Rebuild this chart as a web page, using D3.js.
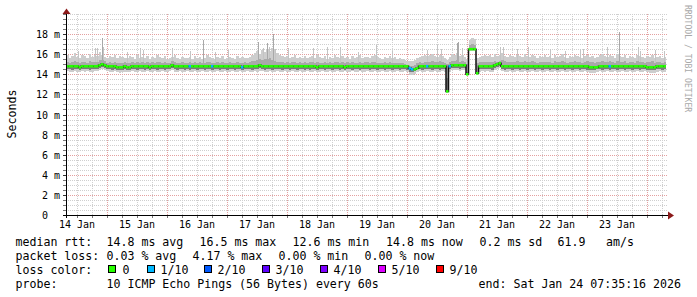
<!DOCTYPE html>
<html>
<head>
<meta charset="utf-8">
<script src="https://cdn.jsdelivr.net/npm/d3@7"></script>
<style>
  body { margin: 0; background: #fff; }
  svg { display: block; font-family: "DejaVu Sans Mono", monospace; }
</style>
</head>
<body>
<svg id="chart" width="697" height="297"></svg>
<script>
"use strict";

// Time window: ten days ending at the probe's last update
var endTime = new Date(Date.UTC(2026, 0, 24, 7, 35, 16));
var startTime = new Date(+endTime - 10 * 864e5);

// Hourly median rtt (ms), one row per day
var medianRtt = [
  14.8,14.8,14.8,14.8,14.8,14.7,14.8,14.8,14.8,14.8,14.8,14.8,14.8,14.9,15.0,14.9,14.8,14.8,14.8,14.8,14.7,14.7,14.7,14.8,
  14.7,14.7,14.8,14.8,14.8,14.8,14.8,14.8,14.8,14.7,14.8,14.8,14.8,14.8,14.8,14.8,14.8,14.8,14.9,14.8,14.8,14.8,14.8,14.8,
  14.8,14.8,14.8,14.8,14.8,14.8,14.8,14.8,14.8,14.8,14.8,14.8,14.8,14.8,14.8,14.8,14.8,14.8,14.8,14.8,14.8,14.8,14.7,14.8,
  14.8,14.8,14.8,14.8,14.8,14.9,14.8,14.8,14.8,14.8,14.8,14.8,14.8,14.8,14.8,14.8,14.8,14.8,14.8,14.8,14.8,14.8,14.8,14.8,
  14.8,14.8,14.8,14.8,14.7,14.8,14.8,14.8,14.8,14.8,14.8,14.8,14.8,14.8,14.8,14.7,14.8,14.8,14.8,14.8,14.8,14.8,14.8,14.8,
  14.8,14.8,14.8,14.8,14.8,14.8,14.8,14.8,14.8,14.8,14.8,14.8,14.8,14.8,14.8,14.8,14.8,14.6,14.5,14.5,14.6,14.8,14.8,14.8,
  14.8,14.8,14.8,14.8,14.8,14.8,14.8,14.8,12.3,14.8,14.9,14.9,14.9,14.9,14.9,14.9,14.0,16.5,16.5,16.5,14.1,14.8,14.8,14.8,
  14.8,14.8,14.8,14.9,15.0,15.1,14.8,14.8,14.8,14.8,14.8,14.8,14.8,14.8,14.8,14.8,14.8,14.8,14.8,14.8,14.8,14.8,14.8,14.8,
  14.8,14.8,14.8,14.8,14.8,14.8,14.8,14.8,14.8,14.8,14.8,14.8,14.8,14.8,14.8,14.8,14.8,14.7,14.7,14.7,14.7,14.8,14.8,14.8,
  14.8,14.8,14.8,14.8,14.8,14.8,14.8,14.8,14.8,14.8,14.8,14.8,14.8,14.8,14.8,14.8,14.7,14.7,14.7,14.7,14.8,14.8,14.8,14.8
];

// Hours with lost pings, and how many were lost (out of 10)
var lossHours = [49, 58, 70, 137, 138, 144, 153, 217];
var lossLevel = [1, 1, 1, 1, 1, 1, 1, 1];

// Smoke: highest ping
var smokeMax = [
  15.9,15.6,15.8,16.1,15.7,15.6,15.9,15.8,15.6,16.0,15.7,15.9,15.8,16.2,15.9,15.7,15.6,15.8,15.7,15.9,15.6,15.8,15.7,15.6,
  15.6,15.8,15.7,15.5,15.9,15.6,15.7,15.6,15.8,15.5,15.7,15.6,15.9,15.7,15.6,15.8,15.5,15.6,15.7,15.9,15.6,15.5,15.7,15.6,
  15.6,15.7,15.5,15.8,15.6,15.7,15.5,15.6,15.9,15.7,15.6,15.5,15.7,15.6,15.8,15.5,15.6,15.7,15.6,15.5,15.8,15.6,15.7,15.6,
  15.6,15.7,15.9,16.1,16.3,16.0,16.4,16.2,16.5,16.3,16.6,16.4,16.1,15.9,15.8,15.7,15.8,15.6,15.7,15.9,15.6,15.7,15.6,15.8,
  15.6,15.7,15.8,15.6,15.9,15.7,15.6,15.8,15.5,15.7,15.6,15.9,15.7,15.6,15.8,15.6,15.7,15.5,15.8,15.6,15.7,15.9,15.6,15.7,
  15.7,15.6,15.8,15.9,15.7,15.6,15.5,15.7,15.6,15.8,15.6,15.7,15.5,15.6,15.5,15.4,15.3,15.3,15.3,15.4,15.6,15.7,15.8,15.9,
  15.8,15.9,16.0,15.8,15.7,15.9,15.8,15.6,15.4,15.7,16.0,15.9,16.1,15.8,15.9,15.7,15.5,17.4,17.6,17.5,15.6,15.7,15.8,15.9,
  15.8,15.9,15.7,16.0,15.8,15.9,16.1,15.8,15.7,15.9,15.8,15.7,15.9,15.8,15.7,16.0,15.8,15.7,15.9,15.8,15.6,15.8,15.7,15.9,
  15.7,15.8,15.6,15.9,15.7,15.8,16.0,15.7,15.6,15.8,15.7,15.9,15.8,15.7,15.6,15.8,15.9,15.7,15.8,15.6,15.7,15.9,16.0,15.8,
  15.7,15.9,15.8,15.6,16.0,15.8,15.7,15.9,15.6,15.8,15.7,15.6,15.9,15.8,15.7,15.6,15.8,15.7,15.9,15.6,15.7,15.8,15.6,15.7
];

// Smoke: upper edge of the dense part
var smokeHigh = [
  15.2,15.1,15.2,15.3,15.2,15.1,15.2,15.2,15.1,15.3,15.2,15.2,15.2,15.4,15.4,15.3,15.1,15.2,15.1,15.2,15.1,15.1,15.1,15.2,
  15.1,15.1,15.2,15.1,15.2,15.1,15.2,15.1,15.2,15.1,15.2,15.1,15.2,15.2,15.1,15.2,15.1,15.1,15.3,15.2,15.1,15.1,15.2,15.1,
  15.1,15.2,15.1,15.2,15.1,15.2,15.1,15.1,15.2,15.2,15.1,15.1,15.2,15.1,15.2,15.1,15.1,15.2,15.1,15.1,15.2,15.1,15.1,15.2,
  15.1,15.2,15.3,15.3,15.4,15.5,15.4,15.5,15.5,15.6,15.4,15.3,15.2,15.2,15.2,15.1,15.2,15.1,15.2,15.2,15.1,15.2,15.1,15.2,
  15.1,15.2,15.2,15.1,15.2,15.1,15.1,15.2,15.1,15.2,15.1,15.2,15.2,15.1,15.2,15.1,15.2,15.1,15.2,15.1,15.1,15.2,15.1,15.2,
  15.2,15.1,15.2,15.2,15.1,15.1,15.1,15.2,15.1,15.2,15.1,15.1,15.1,15.1,15.1,15.0,14.9,14.8,14.8,14.9,15.1,15.2,15.1,15.2,
  15.2,15.2,15.3,15.2,15.2,15.3,15.2,15.1,15.0,15.2,15.3,15.3,15.4,15.2,15.3,15.2,15.0,16.9,17.0,16.9,15.1,15.2,15.2,15.2,
  15.2,15.2,15.2,15.3,15.2,15.3,15.4,15.3,15.2,15.2,15.2,15.2,15.3,15.2,15.2,15.3,15.2,15.2,15.3,15.2,15.1,15.2,15.2,15.2,
  15.2,15.2,15.1,15.3,15.2,15.2,15.3,15.2,15.1,15.2,15.2,15.3,15.2,15.2,15.1,15.2,15.3,15.2,15.2,15.1,15.2,15.2,15.3,15.2,
  15.2,15.3,15.2,15.1,15.3,15.2,15.2,15.3,15.1,15.2,15.2,15.1,15.3,15.2,15.2,15.1,15.2,15.2,15.3,15.1,15.2,15.2,15.1,15.2
];

// Smoke: lower edge of the dense part
var smokeLow = [
  14.5,14.5,14.4,14.5,14.5,14.4,14.5,14.5,14.5,14.4,14.5,14.5,14.5,14.6,14.7,14.6,14.5,14.5,14.4,14.5,14.4,14.4,14.4,14.5,
  14.4,14.4,14.5,14.5,14.4,14.5,14.5,14.4,14.5,14.4,14.5,14.5,14.4,14.5,14.5,14.4,14.5,14.5,14.6,14.5,14.4,14.5,14.5,14.4,
  14.5,14.4,14.5,14.5,14.4,14.5,14.5,14.4,14.5,14.5,14.4,14.5,14.5,14.4,14.5,14.5,14.4,14.5,14.5,14.4,14.5,14.5,14.4,14.5,
  14.5,14.5,14.4,14.5,14.5,14.6,14.5,14.4,14.5,14.5,14.4,14.5,14.5,14.5,14.4,14.5,14.5,14.4,14.5,14.5,14.4,14.5,14.5,14.4,
  14.5,14.4,14.5,14.5,14.4,14.5,14.5,14.4,14.5,14.5,14.4,14.5,14.5,14.4,14.5,14.4,14.5,14.5,14.4,14.5,14.5,14.4,14.5,14.5,
  14.5,14.4,14.5,14.5,14.4,14.5,14.5,14.4,14.5,14.5,14.4,14.5,14.5,14.4,14.5,14.5,14.4,14.2,14.2,14.3,14.5,14.5,14.4,14.5,
  14.5,14.5,14.4,14.5,14.5,14.4,14.5,14.5,13.6,14.5,14.6,14.6,14.6,14.5,14.6,14.6,14.2,16.4,16.4,16.4,14.2,14.5,14.5,14.5,
  14.5,14.5,14.4,14.6,14.7,14.8,14.5,14.4,14.5,14.5,14.4,14.5,14.5,14.4,14.5,14.5,14.4,14.5,14.5,14.4,14.5,14.5,14.4,14.5,
  14.5,14.4,14.5,14.5,14.4,14.5,14.5,14.4,14.5,14.5,14.4,14.5,14.5,14.4,14.5,14.5,14.4,14.4,14.4,14.4,14.5,14.5,14.4,14.5,
  14.5,14.4,14.5,14.5,14.4,14.5,14.5,14.4,14.5,14.5,14.4,14.5,14.5,14.4,14.5,14.5,14.4,14.4,14.4,14.4,14.5,14.5,14.4,14.5
];

// Smoke: lowest ping
var smokeMin = [
  14.3,14.2,14.2,14.3,14.2,14.2,14.3,14.2,14.3,14.2,14.2,14.3,14.3,14.4,14.5,14.4,14.3,14.2,14.2,14.3,14.2,14.1,14.2,14.2,
  14.2,14.2,14.3,14.2,14.2,14.3,14.2,14.2,14.3,14.2,14.2,14.3,14.2,14.2,14.3,14.2,14.2,14.3,14.4,14.2,14.2,14.3,14.2,14.2,
  14.3,14.2,14.2,14.3,14.2,14.2,14.3,14.2,14.2,14.3,14.2,14.2,14.3,14.2,14.2,14.3,14.2,14.2,14.3,14.2,14.2,14.3,14.2,14.2,
  14.3,14.2,14.2,14.3,14.2,14.3,14.3,14.2,14.2,14.3,14.2,14.2,14.3,14.2,14.2,14.3,14.2,14.2,14.3,14.2,14.2,14.3,14.2,14.2,
  14.3,14.2,14.2,14.3,14.2,14.2,14.3,14.2,14.2,14.3,14.2,14.2,14.3,14.2,14.2,14.3,14.2,14.2,14.3,14.2,14.2,14.3,14.2,14.2,
  14.3,14.2,14.2,14.3,14.2,14.2,14.3,14.2,14.2,14.3,14.2,14.2,14.3,14.2,14.2,14.3,14.2,13.9,13.9,14.0,14.2,14.3,14.2,14.2,
  14.3,14.2,14.2,14.3,14.2,14.2,14.3,14.2,13.2,14.2,14.4,14.4,14.4,14.3,14.4,14.4,13.9,16.3,16.3,16.3,13.9,14.2,14.3,14.2,
  14.3,14.2,14.2,14.4,14.5,14.6,14.3,14.2,14.2,14.3,14.2,14.2,14.3,14.2,14.2,14.3,14.2,14.2,14.3,14.2,14.2,14.3,14.2,14.2,
  14.3,14.2,14.2,14.3,14.2,14.2,14.3,14.2,14.2,14.3,14.2,14.2,14.3,14.2,14.2,14.3,14.2,14.1,14.1,14.1,14.2,14.3,14.2,14.2,
  14.3,14.2,14.2,14.3,14.2,14.2,14.3,14.2,14.2,14.3,14.2,14.2,14.3,14.2,14.2,14.3,14.2,14.1,14.1,14.1,14.2,14.3,14.2,14.2
];

// Single slow pings: [hour, ms]
var spikes = [
  [4.8,16.3],[11.6,16.6],[12.4,16.6],[14.4,17.6],[14.8,16.7],[24.4,16.2],[29.6,16.6],[30.8,16.4],
  [42.4,16.6],[49.6,16.3],[54.8,17.4],[59.6,16.2],[64.8,16.4],[76.8,17.2],[78.8,16.6],[80.4,17.1],
  [81.2,16.7],[82.8,18.0],[83.6,16.5],[88.8,16.6],[98.8,16.6],[104.4,16.7],[109.6,16.7],[116.8,16.2],
  [124,16.9],[130.4,16.3],[144.4,16.4],[148.4,16.9],[150,16.5],[156.4,17.1],[156.8,17.2],[158.4,16.6],
  [173.6,16.7],[174.8,16.7],[180.4,16.5],[184.8,16.7],[193.6,16.5],[199.6,16.3],[205.6,16.5],[206.8,16.5],
  [216.4,16.7],[221.2,18.2],[228.8,16.7],[229.6,16.3],[235.6,16.4],[239.2,16.3]
];

// Y ticks
var yMajor = [2, 4, 6, 8, 10, 12, 14, 16, 18];

// Legend
var lossLabels = ["0", "1/10", "2/10", "3/10", "4/10", "5/10", "9/10"];
var lossColors = ["#26ff00", "#00b8ff", "#0059ff", "#5e00ff", "#7e00ff", "#dd00ff", "#ff0000"];
var rttLegend = ["median rtt:", "14.8 ms avg", "16.5 ms max", "12.6 ms min", "14.8 ms now", "0.2 ms sd", "61.9", "am/s"];
var pktLegend = ["packet loss:", "0.03 % avg", "4.17 % max", "0.00 % min", "0.00 % now"];
var probeLegend = ["probe:", "10 ICMP Echo Pings (56 Bytes) every 60s"];
var endLabel = "end: Sat Jan 24 07:35:16 2026";

var svg = d3.select("#chart");
var n = medianRtt.length;

var x = d3.scaleUtc().domain([startTime, endTime]).range([66, 666]);
var y = d3.scaleLinear().domain([0, 20]).range([215, 14]);
var hx = function(h) { return x(new Date(+startTime + h * 36e5)); };
var px = function(v) { return Math.round(v) + 0.5; };
var at = function(arr, i) { return arr[Math.min(i, n - 1)]; };

// Grid ///////////////////////////////////////////////////
var grid = svg.append("g").attr("stroke-dasharray", "1,1").attr("shape-rendering", "crispEdges");

var days = x.ticks(d3.utcDay.every(1));
var quarters = x.ticks(d3.utcHour.every(6)).filter(function(d) { return d.getUTCHours() !== 0; });
var noons = d3.utcDay.range(d3.utcDay.floor(startTime), endTime)
    .map(function(d) { return new Date(+d + 432e5); })
    .filter(function(d) { return d > startTime && d < endTime; });

grid.selectAll(".vmin").data(quarters).join("line")
    .attr("x1", function(d) { return px(x(d)); })
    .attr("x2", function(d) { return px(x(d)); })
    .attr("y1", 14).attr("y2", 215)
    .attr("stroke", "#cfcfcf");

var halves = d3.range(1, 41).map(function(k) { return k / 2; })
    .filter(function(v) { return yMajor.indexOf(v) < 0; });

grid.selectAll(".hmin").data(halves).join("line")
    .attr("x1", 66).attr("x2", 667)
    .attr("y1", function(d) { return px(y(d)); })
    .attr("y2", function(d) { return px(y(d)); })
    .attr("stroke", "#cfcfcf");

grid.selectAll(".vmaj").data(days).join("line")
    .attr("x1", function(d) { return px(x(d)); })
    .attr("x2", function(d) { return px(x(d)); })
    .attr("y1", 14).attr("y2", 215)
    .attr("stroke", "#e4a0a0");

grid.selectAll(".hmaj").data(yMajor).join("line")
    .attr("x1", 66).attr("x2", 667)
    .attr("y1", function(d) { return px(y(d)); })
    .attr("y2", function(d) { return px(y(d)); })
    .attr("stroke", "#e4a0a0");

// Smoke //////////////////////////////////////////////////
var band = function(lo, hi) {
  return d3.area()
      .curve(d3.curveStepAfter)
      .x(function(i) { return hx(i); })
      .y0(function(i) { return y(at(lo, i)); })
      .y1(function(i) { return y(at(hi, i)); });
};
var steps = d3.range(n + 1);

svg.append("path").datum(steps)
    .attr("d", band(smokeMin, smokeMax))
    .attr("fill", "#cdcdcd")
    .attr("shape-rendering", "crispEdges");

svg.append("g").selectAll("line").data(spikes).join("line")
    .attr("x1", function(d) { return px(hx(d[0])); })
    .attr("x2", function(d) { return px(hx(d[0])); })
    .attr("y1", function(d) { return y(smokeHigh[Math.floor(d[0])]); })
    .attr("y2", function(d) { return y(d[1]); })
    .attr("stroke", function(d) { return d[1] > 17 ? "#a8a8a8" : "#c4c4c4"; })
    .attr("shape-rendering", "crispEdges");

svg.append("path").datum(steps)
    .attr("d", band(smokeLow, smokeHigh))
    .attr("fill", "#a9a9a9")
    .attr("shape-rendering", "crispEdges");

svg.append("path").datum(steps)
    .attr("d", band(smokeLow, medianRtt))
    .attr("fill", "#7a7a7a")
    .attr("shape-rendering", "crispEdges");

// Median /////////////////////////////////////////////////
svg.append("path").datum(steps)
    .attr("d", d3.line().curve(d3.curveStepAfter)
        .x(function(i) { return hx(i); })
        .y(function(i) { return y(at(medianRtt, i)); }))
    .attr("fill", "none")
    .attr("stroke", "#111")
    .attr("stroke-width", 1.5);

var lossAt = function(i) {
  var k = lossHours.indexOf(i);
  return k < 0 ? 0 : lossLevel[k];
};

svg.append("g").selectAll("line").data(d3.range(n)).join("line")
    .attr("x1", function(i) { return hx(i); })
    .attr("x2", function(i) { return hx(i + 1); })
    .attr("y1", function(i) { return y(medianRtt[i]); })
    .attr("y2", function(i) { return y(medianRtt[i]); })
    .attr("stroke", function(i) { return lossColors[lossAt(i)]; })
    .attr("stroke-width", 2.6);

// Axes ///////////////////////////////////////////////////
var axes = svg.append("g").attr("shape-rendering", "crispEdges").attr("stroke", "#000");

axes.selectAll(".yt").data(halves.concat(yMajor)).join("line")
    .attr("x1", 63).attr("x2", 66)
    .attr("y1", function(d) { return px(y(d)); })
    .attr("y2", function(d) { return px(y(d)); })
    .attr("stroke", function(d) { return yMajor.indexOf(d) < 0 ? "#777" : "#333"; });

axes.selectAll(".xt").data(quarters.concat(days)).join("line")
    .attr("x1", function(d) { return px(x(d)); })
    .attr("x2", function(d) { return px(x(d)); })
    .attr("y1", 216).attr("y2", 218)
    .attr("stroke", "#777");

axes.append("line").attr("x1", 66.5).attr("x2", 66.5).attr("y1", 218).attr("y2", 12);
axes.append("line").attr("x1", 63).attr("x2", 669).attr("y1", 215.5).attr("y2", 215.5);

svg.append("path").attr("d", "M62.5,14L66.5,8.5L70.5,14Z").attr("fill", "#8b1a1a");
svg.append("path").attr("d", "M668,211.5L674,215.5L668,219.5Z").attr("fill", "#8b1a1a");

// Tick labels ////////////////////////////////////////////
svg.append("g").attr("font-size", "10px").attr("text-anchor", "end")
  .selectAll("text").data([0].concat(yMajor)).join("text")
    .attr("x", 60)
    .attr("y", function(d) { return Math.round(y(d)) + 4; })
    .text(function(d) { return d === 0 ? "0\u00a0\u00a0" : d + " m"; });

svg.append("g").attr("font-size", "10px").attr("text-anchor", "middle")
  .selectAll("text").data(noons).join("text")
    .attr("x", function(d) { return x(d); })
    .attr("y", 228)
    .text(function(d) { return d3.utcFormat("%d %b")(d); });

svg.append("text")
    .attr("transform", "translate(15.5,114) rotate(-90)")
    .attr("text-anchor", "middle")
    .attr("font-size", "11.6px")
    .text("Seconds");

svg.append("text")
    .attr("transform", "translate(685,5) rotate(90)")
    .attr("font-size", "8.1px")
    .attr("fill", "#a8a8a8")
    .text("RRDTOOL / TOBI OETIKER");

// Legend /////////////////////////////////////////////////
var legend = svg.append("g").attr("font-size", "11.6px");

var row = function(items, xs, yy) {
  legend.append("g").selectAll("text").data(items).join("text")
      .attr("x", function(d, i) { return xs[i]; })
      .attr("y", yy)
      .text(function(d) { return d; });
};

row(rttLegend, [15.5, 106.5, 199.5, 292.5, 386, 479.5, 557.5, 606], 246);
row(pktLegend, [15.5, 106.5, 192.5, 278.5, 364.5], 260);
row(["loss color:"], [15.5], 274);
row(probeLegend, [15.5, 106.5], 288);

var boxX = [108, 147, 204, 262, 320, 378, 436];
legend.append("g").selectAll("rect").data(lossColors).join("rect")
    .attr("x", function(d, i) { return boxX[i] + 0.5; })
    .attr("y", 265.5)
    .attr("width", 7).attr("height", 7)
    .attr("fill", function(d) { return d; })
    .attr("stroke", "#000");
row(lossLabels, boxX.map(function(v, i) { return v + (i === 0 ? 14.5 : 13.5); }), 274);

legend.append("text")
    .attr("x", 681).attr("y", 288)
    .attr("text-anchor", "end")
    .text(endLabel);
</script>
</body>
</html>
